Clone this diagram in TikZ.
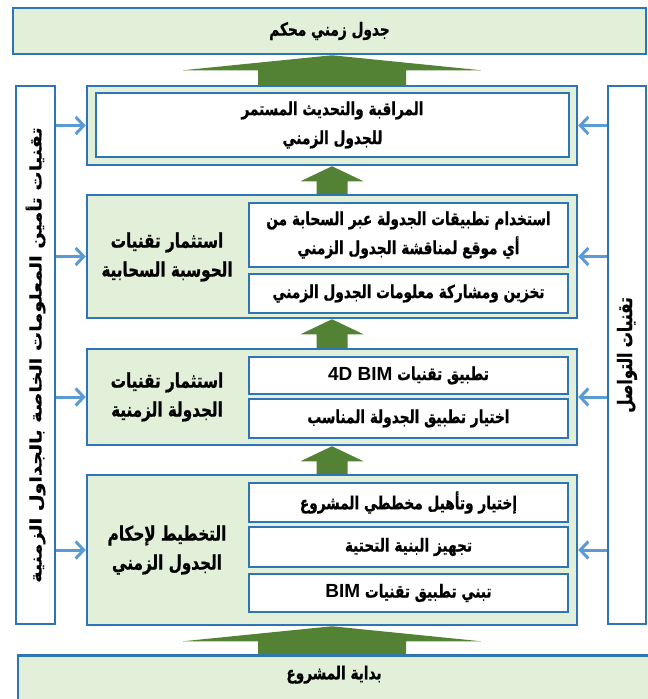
\documentclass[tikz,border=0pt]{standalone}
\usepackage{fontspec}
\usetikzlibrary{arrows.meta,calc}
\newfontfamily\arabicfont[Script=Arabic,FakeStretch=0.76,BoldFeatures={FakeBold=0.8}]{DejaVu Sans}
\newfontfamily\sidefont[Script=Arabic,FakeStretch=1.2,BoldFeatures={FakeBold=0.6}]{DejaVu Sans}
\newfontfamily\latinfont{Liberation Sans}
\TeXXeTstate=1
\definecolor{boxblue}{HTML}{2E75B6}
\definecolor{boxgreen}{HTML}{E2F0D9}
\definecolor{arrgreen}{HTML}{548235}
\definecolor{sideblue}{HTML}{5B9BD5}
\newcommand{\artxt}[1]{\beginR #1\endR}
\newcommand{\lat}[1]{\beginL{\latinfont\fontsize{19}{29}\selectfont #1}\endL}
% green block arrow from #1 up to #2, shaft and head half widths #3, #4
\newcommand{\blockup}[4]{%
  \fill[arrgreen] ($(#1.north -| col)+(-#3,0)$) -- ($(#2.south -| col)+(-#3,15)$)
    -- ($(#2.south -| col)+(-#4,15)$) -- (#2.south -| col) -- ($(#2.south -| col)+(#4,15)$)
    -- ($(#2.south -| col)+(#3,15)$) -- ($(#1.north -| col)+(#3,0)$) -- cycle;}
\begin{document}
\begin{tikzpicture}[x=1pt,y=-1pt,font=\arabicfont\bfseries\fontsize{18}{29}\selectfont]
\tikzstyle{endbox} = [rectangle, draw=boxblue, line width=2.5pt, fill=boxgreen, text centered]
\tikzstyle{outerbox} = [rectangle, draw=boxblue, line width=2.5pt, fill=boxgreen, minimum width=490pt]
\tikzstyle{innerbox} = [rectangle, draw=boxblue, line width=2.5pt, fill=white, align=center, minimum width=319pt]
\tikzstyle{grouplbl} = [align=center, font=\arabicfont\bfseries\fontsize{20}{29}\selectfont]
\tikzstyle{sidebox} = [rectangle, draw=boxblue, line width=2.5pt, fill=white, minimum height=538pt]
\tikzstyle{sidearrow} = [draw=sideblue, line width=3pt, -{Straight Barb[length=8pt,width=17pt]}]
\useasboundingbox (0,0) rectangle (648,699);
\coordinate (col) at (332,0);
\node (goal)[endbox, minimum width=633pt, minimum height=46pt] at (329.5,31) {\artxt{جدول زمني محكم}};
\node (start)[endbox, anchor=north, minimum width=632pt, inner ysep=0pt, text height=24pt, text depth=30pt] at (334,654) {\artxt{بداية المشروع}};
\node (mon)[outerbox, minimum height=79pt] at (332,125.5) {};
\node (monin)[innerbox, minimum width=473pt, minimum height=64pt] at (332.5,125) {\artxt{المراقبة والتحديث المستمر}\\\artxt{للجدول الزمني}};
\node (cloud)[outerbox, minimum height=123pt] at (332,256.5) {};
\node (cloudlbl)[grouplbl] at (167,257) {\artxt{استثمار تقنيات}\\\artxt{الحوسبة السحابية}};
\node (cloudA)[innerbox, minimum height=64pt] at (408.5,235) {\artxt{استخدام تطبيقات الجدولة عبر السحابة من}\\\artxt{أي موقع لمناقشة الجدول الزمني}};
\node (cloudB)[innerbox, minimum height=39pt] at (408.5,293.5) {\artxt{تخزين ومشاركة معلومات الجدول الزمني}};
\node (sched)[outerbox, minimum height=96pt] at (332,397) {};
\node (schedlbl)[grouplbl] at (167,397) {\artxt{استثمار تقنيات}\\\artxt{الجدولة الزمنية}};
\node (schedA)[innerbox, minimum height=37pt] at (408.5,375.5) {\artxt{تطبيق تقنيات \lat{4D BIM}}};
\node (schedB)[innerbox, minimum height=39pt] at (408.5,418.5) {\artxt{اختيار تطبيق الجدولة المناسب}};
\node (plan)[outerbox, minimum height=150pt] at (332,550) {};
\node (planlbl)[grouplbl] at (167,550) {\artxt{التخطيط لإحكام}\\\artxt{الجدول الزمني}};
\node (planA)[innerbox, minimum height=39pt] at (408.5,502.5) {\artxt{إختيار وتأهيل مخططي المشروع}};
\node (planB)[innerbox, minimum height=40pt] at (408.5,547) {\artxt{تجهيز البنية التحتية}};
\node (planC)[innerbox, minimum height=38pt] at (408.5,593) {\artxt{تبني تطبيق تقنيات \lat{BIM}}};
\node (lside)[sidebox, minimum width=39pt, label={[rotate=90,font=\sidefont\bfseries\fontsize{16}{29}\selectfont]center:{\beginR تقنيات تأمين المعلومات الخاصة بالجداول الزمنية\endR}}] at (35.5,355) {};
\node (rside)[sidebox, minimum width=38pt, label={[rotate=90,font=\arabicfont\bfseries\fontsize{20}{29}\selectfont]center:{\beginR تقنيات التواصل\endR}}] at (627,355) {};
\blockup{start}{plan}{74}{149}
\blockup{plan}{sched}{15.5}{31.5}
\blockup{sched}{cloud}{15.5}{31.5}
\blockup{cloud}{mon}{15.5}{31.5}
\blockup{mon}{goal}{74}{149}
\foreach \blk in {mon,cloud,sched,plan}{
  \draw [sidearrow] (lside.east |- \blk.west) -- (\blk.west);
  \draw [sidearrow] (rside.west |- \blk.east) -- (\blk.east);
}
\end{tikzpicture}
\end{document}
